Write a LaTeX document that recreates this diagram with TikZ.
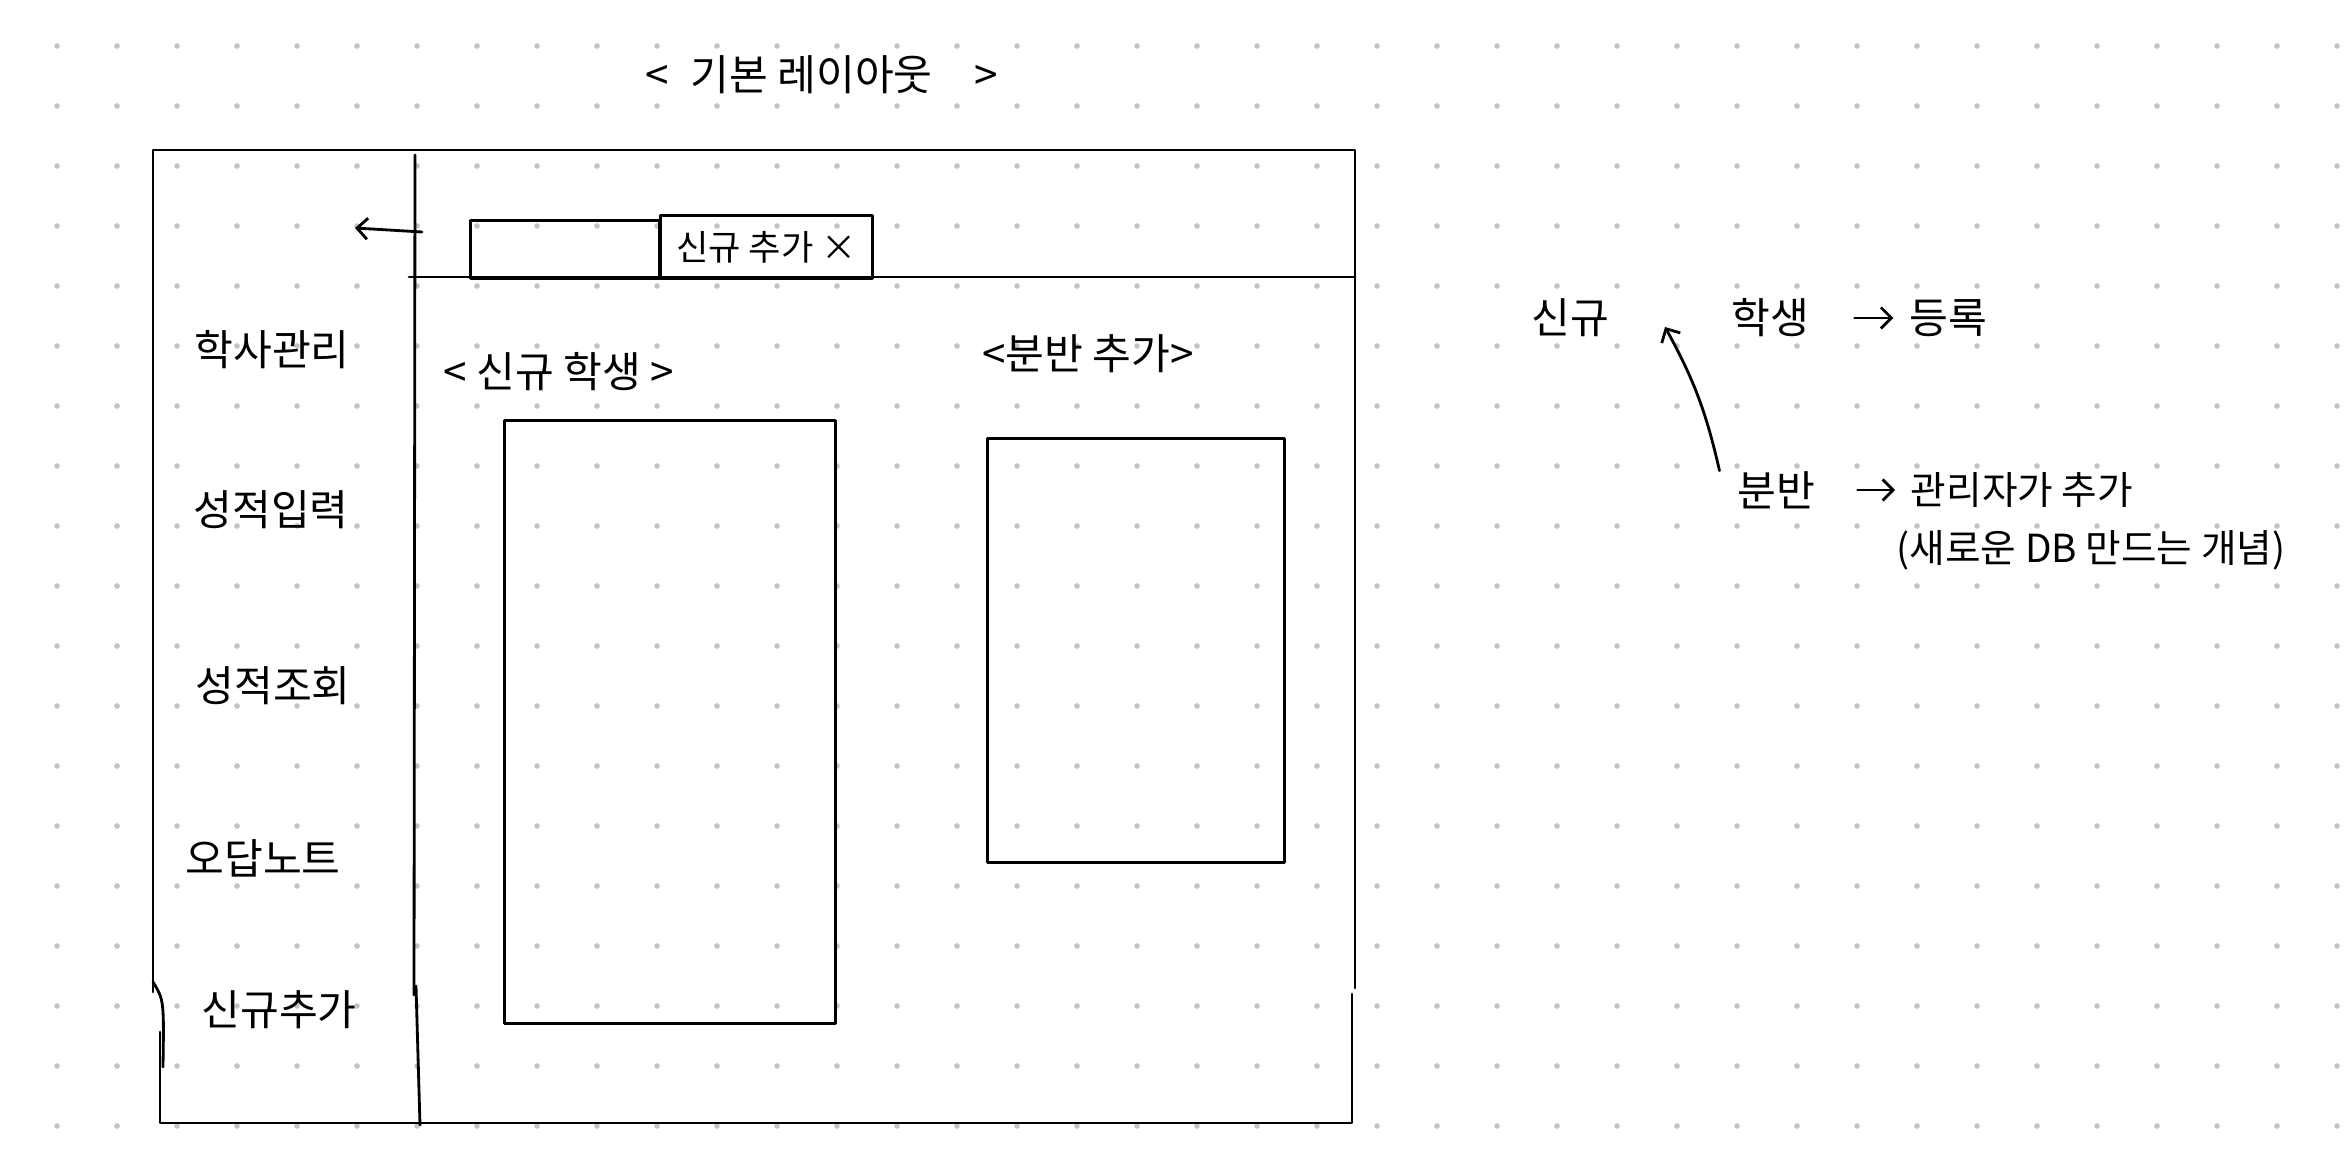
\documentclass[tikz,border=0pt]{standalone}
\usepackage{fontspec}
\newfontfamily\kr{Noto Sans CJK KR}
\usepackage{xcolor}
\usetikzlibrary{arrows.meta}
\definecolor{dotgray}{HTML}{C4C4C4}

\begin{document}
\begin{tikzpicture}[x=0.01cm, y=-0.01cm]

        % 1. Styles for pen strokes and handwriting
        \tikzset{
            pen/.style={line width=0.8pt, black, line cap=round, line join=round},
            hand/.style={font=\kr\fontsize{12}{14}\selectfont, inner sep=0pt},
            notehand/.style={font=\kr\fontsize{11}{13}\selectfont, inner sep=0pt},
            smallhand/.style={font=\kr\fontsize{10}{12}\selectfont, inner sep=0pt},
            panel/.style={pen, draw, anchor=north west, inner sep=0pt},
            barb/.style={pen, -{Straight Barb[length=3pt, width=6pt]}}
        }

        \useasboundingbox (0,0) rectangle (2347,1149);

        % 2. Dotted paper
        \foreach \i in {0,...,38} {
            \foreach \j in {0,...,18} {
                \fill[dotgray] (57+60*\i, 46+60*\j) circle (0.8pt);
            }
        }

        % 3. Title
        \node[hand] (title) at (822,75) {<\enspace 기본 레이아웃\quad >};

        % 4. Outer frame (with the little breaks near the bottom)
        \draw[pen] (153,992) -- (153,150) -- (1355,150) -- (1355,988);
        \draw[pen] (153,982) .. controls (164,1000) .. (163,1067);
        \draw[pen] (160,1032) -- (160,1123) -- (1352,1123) -- (1352,994);

        % Sidebar divider and tab bar
        \draw[pen] (415,155) -- (414,995);
        \draw[pen] (416,986) -- (420,1125);
        \draw[pen] (409,277) -- (1355,277);

        % Back arrow
        \coordinate (backS) at (422,232);
        \coordinate (backE) at (355,228);
        \draw[barb] (backS) -- (backE);

        % 5. Tabs
        \node[panel, minimum width=1.89cm, minimum height=0.58cm] (tabEmpty) at (469,219) {};
        \node[panel, minimum width=2.12cm, minimum height=0.63cm, smallhand] (tabNew) at (659,214) {신규 추가 ×};

        % 6. Sidebar menu
        \node[hand] (menuA) at (272,350) {학사관리};
        \node[hand] (menuB) at (271,510) {성적입력};
        \node[hand] (menuC) at (273,686) {성적조회};
        \node[hand] (menuD) at (263,858) {오답노트};
        \node[hand] (menuE) at (279,1010) {신규추가};

        % 7. Content panels
        \node[hand] (newStudentLbl) at (559,372) {< 신규 학생 >};
        \node[hand] (newClassLbl) at (1088,354) {<분반 추가>};
        \node[panel, minimum width=3.31cm, minimum height=6.03cm] (newStudentBox) at (503,419) {};
        \node[panel, minimum width=2.97cm, minimum height=4.24cm] (newClassBox) at (986,437) {};

        % 8. Notes on the right
        \node[hand] (newNote) at (1570,318) {신규};
        \node[hand] (student) at (1770,318) {학생};
        \node[hand] (register) at (1948,318) {등록};
        \node[hand] (bunban) at (1776,490) {분반};
        \node[notehand] (adminAdd) at (2022,490) {관리자가 추가};
        \node[notehand] (dbNote) at (2091,550) {(새로운 DB 만드는 개념)};

        \draw[barb, shorten <=0.45cm, shorten >=0.15cm] (student.east) -- (register.west);
        \draw[barb, shorten <=0.42cm, shorten >=0.15cm] (bunban.east) -- (adminAdd.west);

        \coordinate (upE) at (1665,327);
        \draw[barb] ([xshift=-0.17cm]bunban.north west) to[bend right=8] (upE);

    \end{tikzpicture}
\end{document}
